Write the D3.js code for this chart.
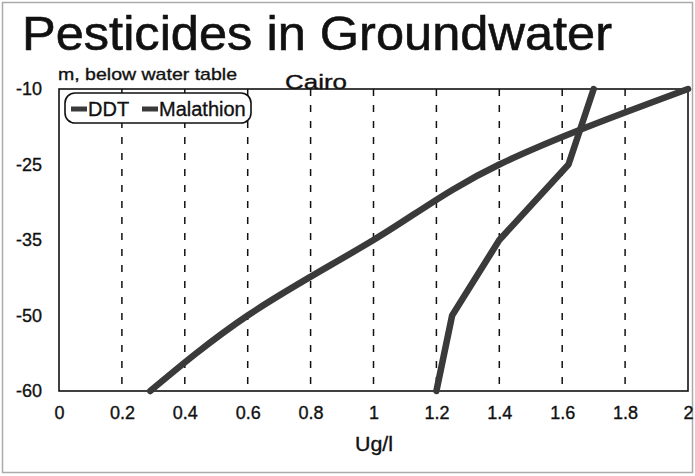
<!DOCTYPE html>
<html><head><meta charset="utf-8">
<script src="https://cdn.jsdelivr.net/npm/d3@7"></script>
<style>body{margin:0;background:#fff}svg{display:block}text{font-family:"Liberation Sans",Arial,sans-serif;fill:#111;stroke:#111;stroke-width:0.35px}</style>
</head><body>
<script>
const depths = ["-10","-25","-35","-50","-60"];
const ddt = [2.0, 1.4, 1.0, 0.6, 0.29];
const malathion = [1.7, 1.62, 1.4, 1.25, 1.2];
const xTicks = [0,0.2,0.4,0.6,0.8,1,1.2,1.4,1.6,1.8,2];
const seriesNames = ["DDT","Malathion"];

const W=695,H=476;
const svg=d3.select("body").append("svg").attr("width",W).attr("height",H);
svg.append("rect").attr("x",2.5).attr("y",2.5).attr("width",W-5).attr("height",H-6).attr("fill","#fff").attr("stroke","#aaa").attr("stroke-width",1.5);

const L=59,R=688,T=89,B=391;
const x=d3.scaleLinear().domain([0,2]).range([L,R]);
const y=d3.scalePoint().domain(depths).range([T,B]);

svg.append("text").attr("x",22).attr("y",50).attr("font-size",48).attr("textLength",590).attr("lengthAdjust","spacingAndGlyphs").style("stroke-width","0.6px").text("Pesticides in Groundwater");
svg.append("text").attr("x",58).attr("y",80).attr("font-size",17).attr("textLength",179).attr("lengthAdjust","spacingAndGlyphs").text("m, below water table");
svg.append("text").attr("x",285).attr("y",89).attr("font-size",21).attr("textLength",62).attr("lengthAdjust","spacingAndGlyphs").text("Cairo");

// grid
svg.append("g").selectAll("line").data(xTicks.filter(d=>d>0&&d<2)).join("line")
 .attr("x1",d=>x(d)).attr("x2",d=>x(d)).attr("y1",T).attr("y2",B)
 .attr("stroke","#111").attr("stroke-width",1.5).attr("stroke-dasharray","7,9");

// frame
svg.append("rect").attr("x",L).attr("y",T).attr("width",R-L).attr("height",B-T).attr("fill","none").attr("stroke","#111").attr("stroke-width",1.6);

// axes
const xa=svg.append("g").attr("transform",`translate(0,${B})`).call(d3.axisBottom(x).tickValues(xTicks).tickSize(0).tickPadding(15).tickFormat(d3.format("~g")));
xa.select(".domain").remove();
xa.selectAll("text").attr("font-size",18).style("font-family","'Liberation Sans',Arial,sans-serif").attr("fill","#111");
const ya=svg.append("g").attr("transform",`translate(${L},0)`).call(d3.axisLeft(y).tickSize(0).tickPadding(17));
ya.select(".domain").remove();
ya.selectAll("text").attr("font-size",18).style("font-family","'Liberation Sans',Arial,sans-serif").attr("fill","#111");

svg.append("text").attr("x",355).attr("y",451).attr("font-size",20).attr("textLength",38).attr("lengthAdjust","spacingAndGlyphs").text("Ug/l");

// legend
const lg=svg.append("g");
lg.append("rect").attr("x",65).attr("y",93).attr("width",186).attr("height",30).attr("rx",10).attr("fill","#fff").attr("stroke","#111").attr("stroke-width",1.6);
const lx=[71,142];
seriesNames.forEach((n,i)=>{
  lg.append("line").attr("x1",lx[i]).attr("x2",lx[i]+16).attr("y1",109).attr("y2",109).attr("stroke","#3a3a3a").attr("stroke-width",5);
  lg.append("text").attr("x",lx[i]+17).attr("y",116).attr("font-size",20).text(n);
});

const curves=[d3.curveMonotoneY, d3.curveLinear];
[ddt,malathion].forEach((s,i)=>{
  const line=d3.line().x(d=>x(d.v)).y(d=>y(d.k)).curve(curves[i]);
  svg.append("path").datum(depths.map((k,j)=>({k,v:s[j]}))).attr("d",line)
   .attr("fill","none").attr("stroke","#3a3a3a").attr("stroke-width",6.5).attr("stroke-linecap","round").attr("stroke-linejoin","round");
});
</script>
</body></html>
